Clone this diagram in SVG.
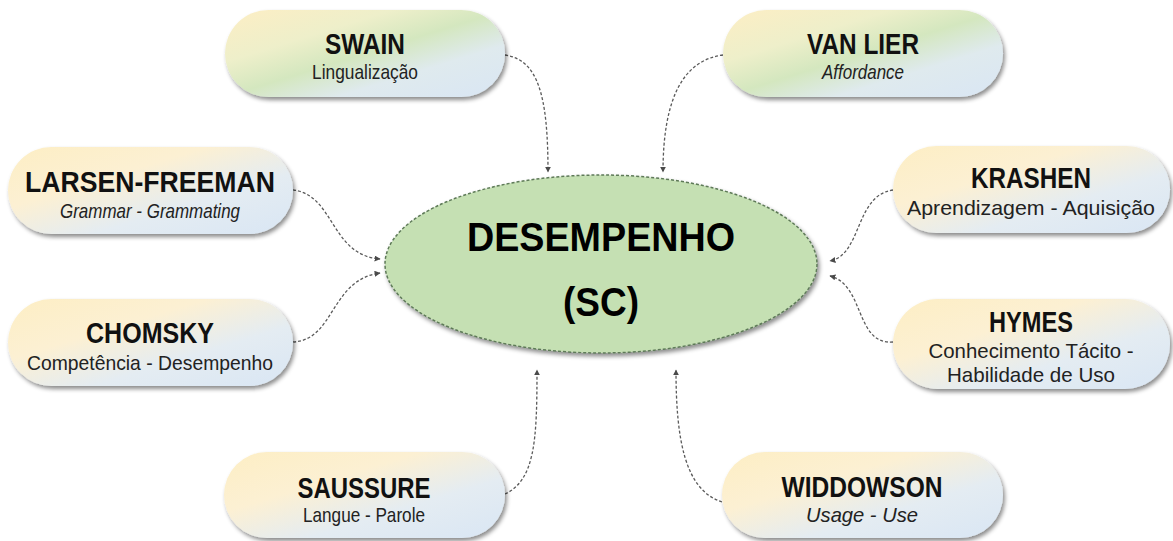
<svg xmlns="http://www.w3.org/2000/svg" width="1173" height="541" viewBox="0 0 1173 541">
<style>
.t{font-family:"Liberation Sans",Arial,sans-serif;font-weight:bold;font-size:29px;fill:#111;text-anchor:middle}
.s{font-family:"Liberation Sans",Arial,sans-serif;font-size:21px;fill:#222;text-anchor:middle}
.i{font-style:italic}
.c{fill:none;stroke:#5a5a5a;stroke-width:1.3;stroke-dasharray:3 2;marker-end:url(#ah)}
.box{filter:url(#sh)}
.big{font-family:"Liberation Sans",Arial,sans-serif;font-weight:bold;font-size:40px;fill:#000;text-anchor:middle}
</style>
<defs>
<linearGradient id="gy" x1="0" y1="0" x2="1" y2="1">
<stop offset="0" stop-color="#fdeec4"/>
<stop offset="0.35" stop-color="#fcf0d3"/>
<stop offset="0.65" stop-color="#e4ecf2"/>
<stop offset="1" stop-color="#d9e6f4"/>
</linearGradient>
<linearGradient id="gg" x1="0" y1="0" x2="1" y2="1">
<stop offset="0" stop-color="#fdeec4"/>
<stop offset="0.3" stop-color="#eeefca"/>
<stop offset="0.5" stop-color="#d4e7bf"/>
<stop offset="0.7" stop-color="#dfeaee"/>
<stop offset="1" stop-color="#d9e6f4"/>
</linearGradient>
<filter id="sh" x="-10%" y="-20%" width="125%" height="150%">
<feDropShadow dx="2" dy="3" stdDeviation="2" flood-color="#000" flood-opacity="0.45"/>
</filter>
<marker id="ah" viewBox="0 0 10 10" refX="9" refY="5" markerWidth="6" markerHeight="6" markerUnits="userSpaceOnUse" orient="auto">
<path d="M0,0 L10,5 L0,10 z" fill="#4a4a4a"/>
</marker>
</defs>
<rect width="1173" height="541" fill="#fff"/>
<g id="connectors">
<path class="c" d="M505,55 C538,60 548,95 548,172"/>
<path class="c" d="M723,55 C685,60 663,95 663,172"/>
<path class="c" d="M293,190 C335,195 330,255 380,259"/>
<path class="c" d="M293,342 C335,340 330,280 380,273"/>
<path class="c" d="M893,190 C855,195 862,255 830,261"/>
<path class="c" d="M893,342 C855,345 865,285 830,276"/>
<path class="c" d="M505,494 C535,480 537,440 537,370"/>
<path class="c" d="M722,502 C685,490 676,440 676,370"/>
</g>
<g id="center">
<ellipse cx="601" cy="264" rx="216" ry="89" fill="#c5e0b3" stroke="#5e7a58" stroke-width="1.5" stroke-dasharray="3 2" filter="url(#sh)"/>
<text class="big" x="601" y="251" textLength="268" lengthAdjust="spacingAndGlyphs">DESEMPENHO</text>
<text class="big" x="601" y="316" textLength="76" lengthAdjust="spacingAndGlyphs">(SC)</text>
</g>
<g id="swain">
<rect class="box" x="225" y="10" width="280" height="87" rx="43.5" fill="url(#gg)"/>
<text class="t" x="365" y="54" textLength="80" lengthAdjust="spacingAndGlyphs">SWAIN</text>
<text class="s" x="365" y="79" textLength="106" lengthAdjust="spacingAndGlyphs">Lingualização</text>
</g>
<g id="vanlier">
<rect class="box" x="723" y="10" width="280" height="87" rx="43.5" fill="url(#gg)"/>
<text class="t" x="863" y="54" textLength="112" lengthAdjust="spacingAndGlyphs">VAN LIER</text>
<text class="s i" x="863" y="79" textLength="82" lengthAdjust="spacingAndGlyphs">Affordance</text>
</g>
<g id="larsen">
<rect class="box" x="8" y="147" width="285" height="87" rx="43.5" fill="url(#gy)"/>
<text class="t" x="150" y="192" textLength="250" lengthAdjust="spacingAndGlyphs">LARSEN-FREEMAN</text>
<text class="s i" x="150" y="218" textLength="180" lengthAdjust="spacingAndGlyphs">Grammar - Grammating</text>
</g>
<g id="chomsky">
<rect class="box" x="8" y="299" width="285" height="87" rx="43.5" fill="url(#gy)"/>
<text class="t" x="150" y="343" textLength="128" lengthAdjust="spacingAndGlyphs">CHOMSKY</text>
<text class="s" x="150" y="370" textLength="246" lengthAdjust="spacingAndGlyphs">Competência - Desempenho</text>
</g>
<g id="krashen">
<rect class="box" x="893" y="146" width="277" height="87" rx="43.5" fill="url(#gy)"/>
<text class="t" x="1031" y="188" textLength="120" lengthAdjust="spacingAndGlyphs">KRASHEN</text>
<text class="s" x="1031" y="215" textLength="248" lengthAdjust="spacingAndGlyphs">Aprendizagem - Aquisição</text>
</g>
<g id="hymes">
<rect class="box" x="893" y="299" width="277" height="90" rx="45" fill="url(#gy)"/>
<text class="t" x="1031" y="332" textLength="84" lengthAdjust="spacingAndGlyphs">HYMES</text>
<text class="s" x="1031" y="358" textLength="205" lengthAdjust="spacingAndGlyphs">Conhecimento Tácito -</text>
<text class="s" x="1031" y="382" textLength="168" lengthAdjust="spacingAndGlyphs">Habilidade de Uso</text>
</g>
<g id="saussure">
<rect class="box" x="224" y="452" width="281" height="86" rx="43" fill="url(#gy)"/>
<text class="t" x="364" y="498" textLength="133" lengthAdjust="spacingAndGlyphs">SAUSSURE</text>
<text class="s" x="364" y="522" textLength="122" lengthAdjust="spacingAndGlyphs">Langue - Parole</text>
</g>
<g id="widdowson">
<rect class="box" x="722" y="452" width="281" height="86" rx="43" fill="url(#gy)"/>
<text class="t" x="862" y="497" textLength="161" lengthAdjust="spacingAndGlyphs">WIDDOWSON</text>
<text class="s i" x="862" y="522" textLength="112" lengthAdjust="spacingAndGlyphs">Usage - Use</text>
</g>
</svg>
